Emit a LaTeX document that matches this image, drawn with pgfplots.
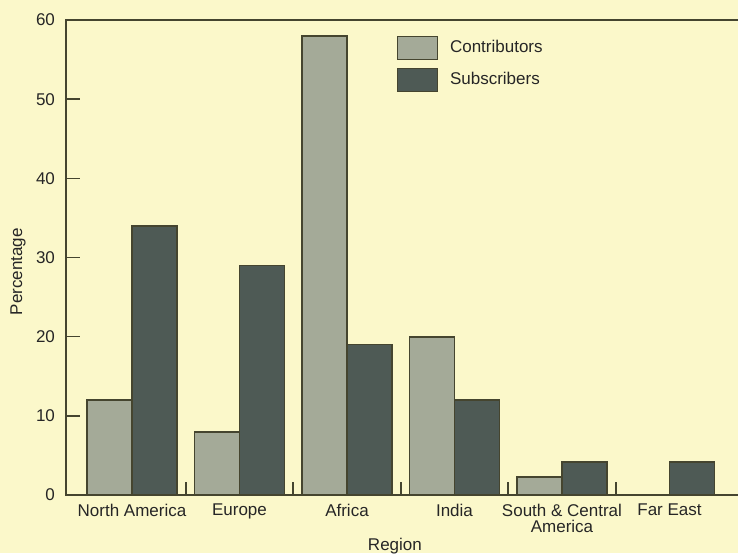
\documentclass[border=0pt]{standalone}
\usepackage{pgfplots}
\pgfplotsset{compat=1.18}
\usepackage{fontspec}
\setmainfont{Liberation Sans}
\definecolor{bg}{HTML}{FBF8CA}
\definecolor{contrib}{HTML}{A4AA98}
\definecolor{subs}{HTML}{4E5A55}
\definecolor{axisc}{HTML}{45452F}
\begin{document}
\begin{tikzpicture}
\fill[bg] (-33pt,-29pt) rectangle (336pt,247.5pt);
\begin{axis}[
  scale only axis,
  width=337pt, height=237.5pt,
  xmin=-0.614, xmax=5.656,
  ymin=0, ymax=60,
  ybar=0pt, bar width=22.5pt,
  axis line style={axisc, line width=1pt},
  xtick={0,1,2,3,4,5},
  xticklabels={North America,Europe,Africa,India,{South \& Central\\[-1pt]America},Far East},
  minor xtick={0.5,1.5,2.5,3.5,4.5},
  major x tick style={draw=none},
  minor x tick style={axisc, line width=0.8pt},
  minor tick length=6.5pt,
  ytick={0,10,20,30,40,50,60},
  major y tick style={axisc, line width=0.8pt},
  major tick length=7pt,
  tick align=inside,
  xtick pos=bottom, ytick pos=left,
  /pgf/number format/assume math mode=true,
  ticklabel style={font=\fontsize{8.5}{9}\selectfont, text=black!85},
  xticklabel style={align=center, yshift=-1pt},
  yticklabel style={xshift=-2pt},
  xlabel={Region},
  ylabel={Percentage},
  label style={font=\fontsize{8.5}{9}\selectfont, text=black!85},
  xlabel style={at={(axis description cs:0.488,-0.1074)}, anchor=center},
  ylabel style={at={(axis description cs:-0.0712,0.47)}, anchor=center},
  legend style={at={(axis description cs:0.49,0.968)}, anchor=north west, draw=none, fill=none,
    inner sep=0pt, row sep=4pt, font=\fontsize{8.5}{9}\selectfont, text=black!85,
    nodes={inner sep=0pt, anchor=west}},
  legend cell align=left,
  legend image code/.code={\draw[#1, draw=axisc, line width=0.7pt] (0pt,-5.75pt) rectangle (20pt,5.75pt);},
  legend columns=1,
  clip=false,
]
\addplot[fill=contrib, draw=axisc, line width=0.9pt] coordinates {(0,12) (1,8) (2,58) (3,20) (4,2.3) (5,0)};
\addplot[fill=subs, draw=axisc, line width=0.9pt] coordinates {(0,34) (1,29) (2,19) (3,12) (4,4.2) (5,4.2)};
\legend{\hspace{6pt}Contributors,\hspace{6pt}Subscribers}
\end{axis}
\pgfresetboundingbox
\useasboundingbox (-33pt,-29pt) rectangle (336pt,247.5pt);
\end{tikzpicture}
\end{document}
